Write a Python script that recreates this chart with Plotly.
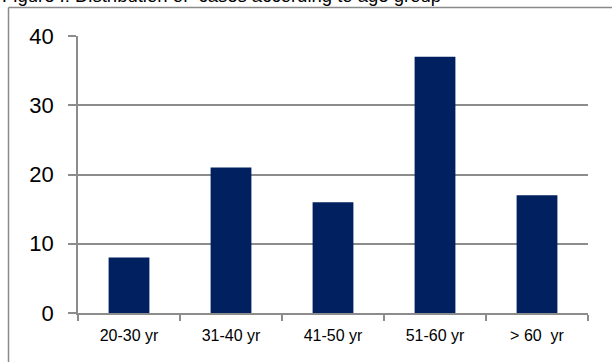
import plotly.graph_objects as go

categories = ["20-30 yr", "31-40 yr", "41-50 yr", "51-60 yr", ">\u00a060\u00a0 yr"]
cases = [8, 21, 16, 37, 17]
y_ticks = [0, 10, 20, 30, 40]
title_text = "Figure I: Distribution of  cases according to age group"

W, H = 612, 362
L, R, T, B = 78, 24, 36, 49
pw, ph = W - L - R, H - T - B

def px_x(p):
    return (p - L) / pw

def px_y(p):
    return (H - B - p) / ph

fig = go.Figure(go.Bar(
    x=categories, y=cases,
    marker=dict(color="#002060", line=dict(width=0)),
))

grid = "#8c8c8c"
fig.update_layout(
    width=W, height=H,
    margin=dict(l=L, r=R, t=T, b=B),
    paper_bgcolor="white", plot_bgcolor="white",
    bargap=0.6,
    showlegend=False,
    font=dict(family="Liberation Sans, Arial, sans-serif", color="black"),
    xaxis=dict(
        type="category",
        showline=True, linecolor=grid, linewidth=1.5,
        ticks="outside", tickson="boundaries", ticklen=6, tickcolor=grid, tickwidth=1.5,
        tickfont=dict(size=16),
        ticklabelstandoff=7,
        showgrid=False,
    ),
    yaxis=dict(
        range=[0, 40], tickvals=y_ticks,
        showline=True, linecolor=grid, linewidth=1.5,
        ticks="outside", ticklen=8, tickcolor=grid, tickwidth=1.5,
        showgrid=True, gridcolor=grid, gridwidth=1.5,
        zeroline=False,
        tickfont=dict(size=22),
        ticklabelstandoff=10,
    ),
    shapes=[
        dict(type="line", xref="paper", yref="paper",
             x0=px_x(8.5), x1=px_x(8.5), y0=px_y(7.5), y1=px_y(380),
             line=dict(color="#8a8a8a", width=1.5)),
        dict(type="line", xref="paper", yref="paper",
             x0=px_x(8.5), x1=px_x(640), y0=px_y(7.5), y1=px_y(7.5),
             line=dict(color="#8a8a8a", width=1.5)),
    ],
    annotations=[
        dict(text=title_text, xref="paper", yref="paper",
             x=px_x(0), y=px_y(8.5), xanchor="left", yanchor="bottom",
             showarrow=False, font=dict(size=18.5, color="black")),
    ],
)

fig.write_html("out.html")
